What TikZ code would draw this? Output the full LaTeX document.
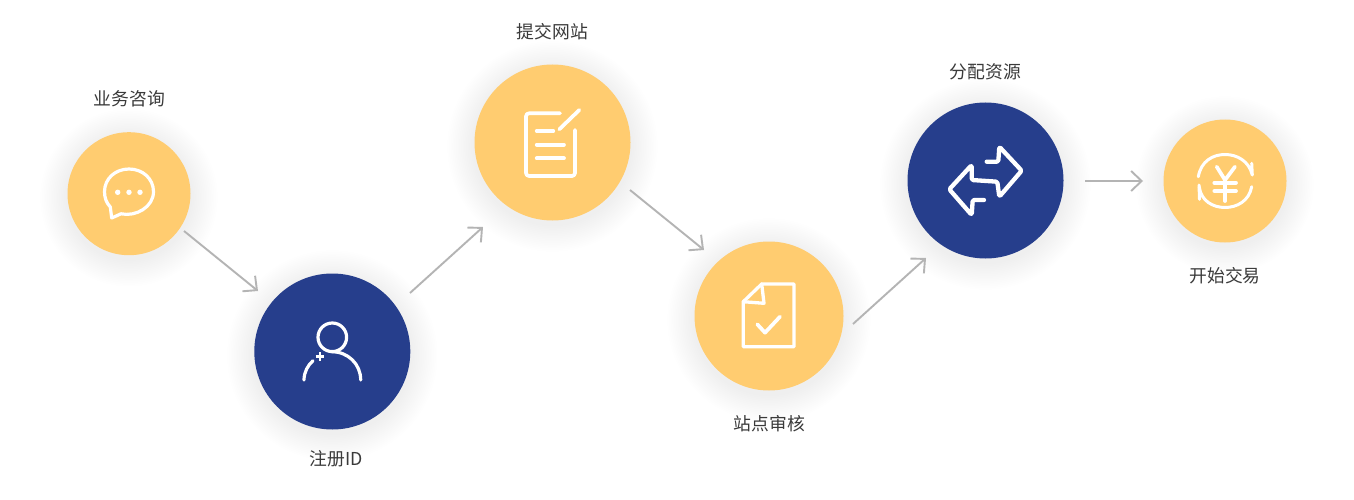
\documentclass[tikz,border=0pt]{standalone}
\usepackage{fontspec}
\setmainfont{Noto Sans CJK SC}[Scale=1]
\usetikzlibrary{arrows.meta}
\definecolor{sun}{HTML}{FFCC70}
\definecolor{navy}{HTML}{263E8C}
\definecolor{link}{HTML}{B4B4B4}
\definecolor{ink}{HTML}{3A3A3A}
\tikzset{
  sunc/.style={circle,fill=sun,inner sep=0pt,minimum size=#1},
  navyc/.style={circle,fill=navy,inner sep=0pt,minimum size=#1},
  lab/.style={text=ink,font=\fontsize{17.8}{20}\selectfont,inner sep=0pt},
  flow/.style={draw=link,line width=1.9pt,-{Straight Barb[length=10.5pt,width=20pt,line width=1.9pt]}},
  ico/.style={draw=white,line width=3.7pt,line cap=round,line join=round},
}
\newcommand{\softshadow}[3]{%
  \foreach \k in {1,...,16}{
    \fill[black,opacity=0.0028] (#1,#2+4) circle[radius=#3+1.7*\k];
  }
}
\begin{document}
\begin{tikzpicture}[x=1pt,y=-1pt]
\useasboundingbox (0,0) rectangle (1354,500);
\fill[white] (0,0) rectangle (1354,500);
% soft shadows
\softshadow{129}{193.7}{61.5}
\softshadow{332.3}{351.5}{78}
\softshadow{552.5}{142.5}{78}
\softshadow{769}{316}{74.5}
\softshadow{985.5}{180.5}{78}
\softshadow{1225}{181}{61.5}
% circles
\node[sunc=123pt] (n1) at (129,193.7) {};
\node[navyc=156pt] (n2) at (332.3,351.5) {};
\node[sunc=156pt] (n3) at (552.5,142.5) {};
\node[sunc=149pt] (n4) at (769,316) {};
\node[navyc=156pt] (n5) at (985.5,180.5) {};
\node[sunc=123pt] (n6) at (1225,181) {};
% labels
\node[lab] (t1) at (129.5,99) {业务咨询};
\node[lab] (t2) at (336,459) {注册ID};
\node[lab] (t3) at (552.5,32) {提交网站};
\node[lab] (t4) at (769.5,424) {站点审核};
\node[lab] (t5) at (985.5,72) {分配资源};
\node[lab] (t6) at (1225,276) {开始交易};
% connector ends
\coordinate (a1) at (184,231);  \coordinate (b1) at (258,291);
\coordinate (a2) at (410,293);  \coordinate (b2) at (483,227);
\coordinate (a3) at (630,190);  \coordinate (b3) at (704,250);
\coordinate (a4) at (853,324);  \coordinate (b4) at (926,258);
\coordinate (a5) at (1085,181); \coordinate (b5) at (1143,181);
\draw[flow] (a1) -- (b1);
\draw[flow] (a2) -- (b2);
\draw[flow] (a3) -- (b3);
\draw[flow] (a4) -- (b4);
\draw[flow] (a5) -- (b5);
% chat icon
\draw[ico,line width=3.2pt] (121,213.8) .. controls (136,217) and (153.5,207) .. (153.5,191.7)
  .. controls (153.5,178.5) and (142.5,169) .. (129,169)
  .. controls (115.5,169) and (104.5,178.5) .. (104.5,191.7)
  .. controls (104.5,198) and (106.5,203) .. (110.3,207)
  -- (111.7,218) -- cycle;
\foreach \x in {117.7,129,140}{\fill[white] (\x,192.3) circle[radius=2.7];}
% user icon
\draw[ico,line width=3.2pt] (332.3,337.3) circle[radius=14.3];
\draw[ico,line width=3.2pt] (331.7,351.7) .. controls (348,351.7) and (360.7,364) .. (360.7,380);
\draw[ico,line width=3.2pt] (304,380) .. controls (304,372) and (308,365) .. (313,360.7);
\draw[ico,line width=2.8pt,line cap=butt] (315.7,356.7) -- (324.3,356.7);
\draw[ico,line width=2.8pt,line cap=butt] (320,352.4) -- (320,361);
% document icon
\draw[ico,rounded corners=3pt] (560,113.3) -- (526,113.3) -- (526,176) -- (575,176) -- (575,130);
\draw[ico] (536.7,131) -- (553.3,131);
\draw[ico] (536.7,144.7) -- (564,144.7);
\draw[ico] (536.7,158.3) -- (564,158.3);
\draw[ico] (559.3,129.3) -- (579.3,110);
% file check icon
\draw[ico,line width=3.3pt] (743.3,301.7) -- (761.7,284) -- (794,284) -- (794,346.7) -- (743.3,346.7) -- cycle;
\draw[ico,line width=3.3pt] (761.7,284) -- (764,303.3) -- (743.3,301.7);
\draw[ico] (757.3,324.3) -- (765,332.7) -- (780,316.7);
% exchange icon
\draw[ico,line width=4.3pt,rounded corners=1.5pt] (986.7,161.7) -- (998.3,161.7) -- (999.3,146.7) -- (1021.7,170.7)
  -- (999.3,196.7) -- (997.3,181.7) -- (971.7,180) -- (971.7,165) -- (949.3,189.3)
  -- (971.7,215) -- (972.7,200) -- (984,200);
% yen icon
\draw[ico,line width=3pt] (1198.3,176.7) .. controls (1201,161) and (1213,154.5) .. (1225,154.5)
  .. controls (1237,154.5) and (1249,161) .. (1252.3,175) -- (1251.7,163.3);
\draw[ico,line width=3pt] (1199,185) -- (1199.5,199.3);
\draw[ico,line width=3pt] (1199.3,187) .. controls (1201,201) and (1213,207.5) .. (1225,207.5)
  .. controls (1237,207.5) and (1249,201) .. (1251.7,186.7);
\draw[ico] (1216.7,166.7) -- (1225,180) -- (1235,166.7);
\draw[ico] (1225,180) -- (1225,201);
\draw[ico] (1214.3,182.7) -- (1236,182.7);
\draw[ico] (1214.3,191) -- (1236,191);
\end{tikzpicture}
\end{document}
